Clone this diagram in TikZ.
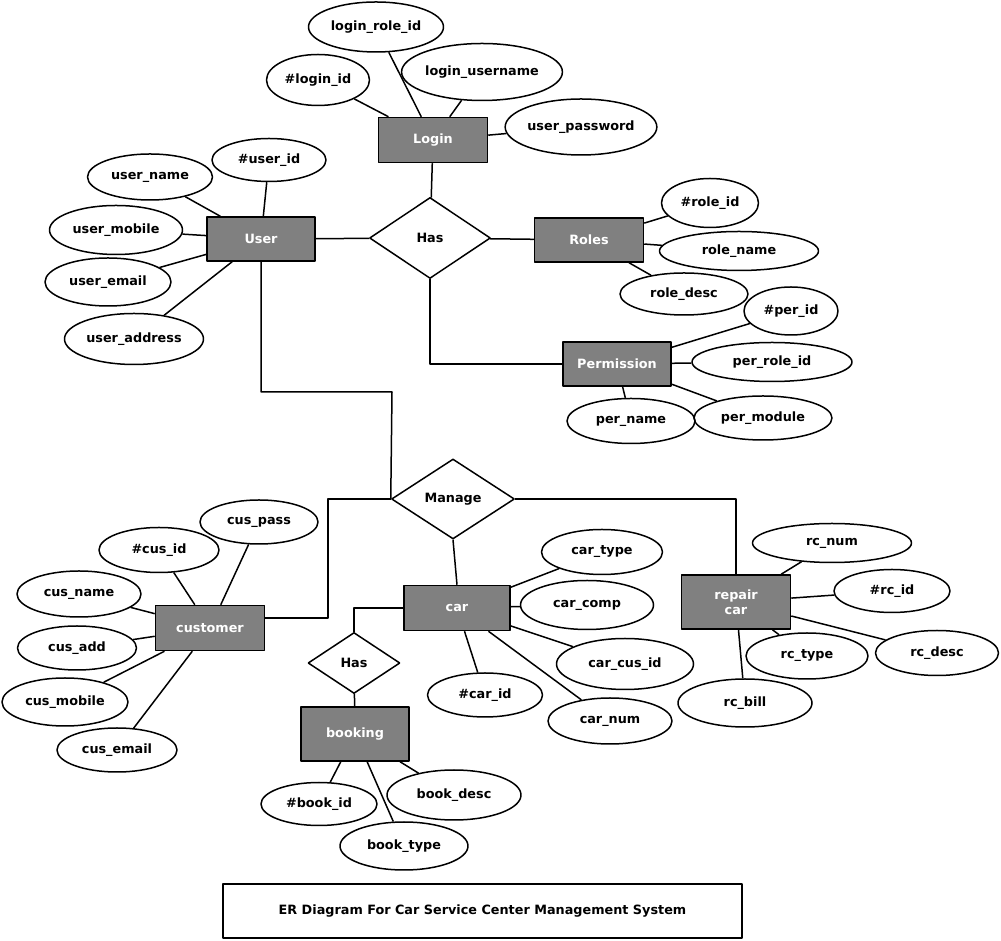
\documentclass[tikz,border=0pt]{standalone}
\usepackage{fontspec}
\setmainfont{DejaVu Sans}
\usepackage{tikz}
\usetikzlibrary{shapes.geometric}
\definecolor{entgray}{RGB}{128,128,128}

\begin{document}
\begin{tikzpicture}[line join=bevel,line width=1.5bp,
  font=\fontsize{12.8bp}{15bp}\selectfont\bfseries,
  entity/.style={draw=black,fill=entgray,text=white,inner sep=0pt,align=center},
  relation/.style={diamond,draw=black,fill=white,inner sep=0pt},
  attrib/.style={ellipse,draw=black,inner sep=0pt},
]
\useasboundingbox (0bp,0bp) rectangle (1001bp,941bp);
%%
\node (node_login) at (433bp,801bp) [entity,minimum width=109bp,minimum height=45bp] {Login};
  \node (node_user) at (261bp,702bp) [entity,minimum width=108bp,minimum height=44bp] {User};
  \node (node_roles) at (589bp,701bp) [entity,minimum width=109bp,minimum height=44bp] {Roles};
  \node (node_permission) at (617bp,577bp) [entity,minimum width=108bp,minimum height=44bp] {Permission};
  \node (node_customer) at (210bp,313bp) [entity,minimum width=109bp,minimum height=45bp] {customer};
  \node (node_car) at (457bp,333bp) [entity,minimum width=106bp,minimum height=45bp] {car};
  \node (node_repair) at (736bp,339bp) [entity,minimum width=109bp,minimum height=54bp] {repair\\car};
  \node (node_booking) at (355bp,207bp) [entity,minimum width=108bp,minimum height=54bp] {booking};
%
  \node (node_has_a) at (430bp,703bp) [relation,minimum width=121bp,minimum height=81bp] {Has};
  \node (node_manage) at (453bp,442bp) [relation,minimum width=123bp,minimum height=80bp] {Manage};
  \node (node_has_b) at (354bp,278bp) [relation,minimum width=92bp,minimum height=61bp] {Has};
%
  \node (node_login_role_id) at (376bp,914bp) [attrib,minimum width=135bp,minimum height=50bp] {login\_role\_id};
  \node (node_login_id) at (318bp,861bp) [attrib,minimum width=103bp,minimum height=51bp] {\#login\_id};
  \node (node_login_username) at (482bp,869bp) [attrib,minimum width=154bp,minimum height=57bp] {login\_username};
  \node (node_user_password) at (581bp,814bp) [attrib,minimum width=150bp,minimum height=56bp] {user\_password};
  \node (node_user_id) at (269bp,781bp) [attrib,minimum width=114bp,minimum height=43bp] {\#user\_id};
  \node (node_user_name) at (150bp,764bp) [attrib,minimum width=125bp,minimum height=46bp] {user\_name};
  \node (node_user_mobile) at (116bp,711bp) [attrib,minimum width=133bp,minimum height=49bp] {user\_mobile};
  \node (node_user_email) at (108bp,659bp) [attrib,minimum width=126bp,minimum height=48bp] {user\_email};
  \node (node_user_address) at (134bp,602bp) [attrib,minimum width=139bp,minimum height=51bp] {user\_address};
  \node (node_role_id) at (710bp,738bp) [attrib,minimum width=97bp,minimum height=49bp] {\#role\_id};
  \node (node_role_name) at (739bp,690bp) [attrib,minimum width=159bp,minimum height=39bp] {role\_name};
  \node (node_role_desc) at (684bp,647bp) [attrib,minimum width=128bp,minimum height=42bp] {role\_desc};
  \node (node_per_id) at (791bp,630bp) [attrib,minimum width=94bp,minimum height=48bp] {\#per\_id};
  \node (node_per_role_id) at (772bp,579bp) [attrib,minimum width=160bp,minimum height=39bp] {per\_role\_id};
  \node (node_per_name) at (631bp,520bp) [attrib,minimum width=128bp,minimum height=45bp] {per\_name};
  \node (node_per_module) at (763bp,523bp) [attrib,minimum width=138bp,minimum height=44bp] {per\_module};
  \node (node_cus_pass) at (259bp,419bp) [attrib,minimum width=118bp,minimum height=44bp] {cus\_pass};
  \node (node_cus_id) at (159bp,391bp) [attrib,minimum width=120bp,minimum height=45bp] {\#cus\_id};
  \node (node_cus_name) at (79bp,347bp) [attrib,minimum width=124bp,minimum height=46bp] {cus\_name};
  \node (node_cus_add) at (77bp,293bp) [attrib,minimum width=119bp,minimum height=44bp] {cus\_add};
  \node (node_cus_mobile) at (65bp,239bp) [attrib,minimum width=126bp,minimum height=48bp] {cus\_mobile};
  \node (node_cus_email) at (117bp,191bp) [attrib,minimum width=120bp,minimum height=44bp] {cus\_email};
  \node (node_car_type) at (602bp,389bp) [attrib,minimum width=121bp,minimum height=45bp] {car\_type};
  \node (node_car_comp) at (587bp,336bp) [attrib,minimum width=133bp,minimum height=49bp] {car\_comp};
  \node (node_car_cus_id) at (625bp,277bp) [attrib,minimum width=137bp,minimum height=51bp] {car\_cus\_id};
  \node (node_car_id) at (485bp,246bp) [attrib,minimum width=115bp,minimum height=44bp] {\#car\_id};
  \node (node_car_num) at (610bp,220bp) [attrib,minimum width=124bp,minimum height=46bp] {car\_num};
  \node (node_rc_num) at (832bp,398bp) [attrib,minimum width=159bp,minimum height=39bp] {rc\_num};
  \node (node_rc_id) at (892bp,350bp) [attrib,minimum width=116bp,minimum height=43bp] {\#rc\_id};
  \node (node_rc_type) at (807bp,285bp) [attrib,minimum width=122bp,minimum height=46bp] {rc\_type};
  \node (node_rc_desc) at (937bp,288bp) [attrib,minimum width=123bp,minimum height=45bp] {rc\_desc};
  \node (node_rc_bill) at (745bp,238bp) [attrib,minimum width=134bp,minimum height=48bp] {rc\_bill};
  \node (node_book_id) at (319bp,137bp) [attrib,minimum width=116bp,minimum height=43bp] {\#book\_id};
  \node (node_book_desc) at (454bp,146bp) [attrib,minimum width=134bp,minimum height=50bp] {book\_desc};
  \node (node_book_type) at (404bp,95bp) [attrib,minimum width=128bp,minimum height=48bp] {book\_type};
%
  \node (node_title) at (482.5bp,30bp) [draw=black,minimum width=519bp,minimum height=54bp] {ER Diagram For Car Service Center Management System};
  \coordinate (bend_0) at (392bp,549bp);
  \coordinate (bend_1) at (328bp,323bp);
%
  \draw [black] (node_login) -- (node_has_a);
  \draw [black] (node_user) -- (node_has_a);
  \draw [black] (node_has_a) -- (node_roles);
  \draw [black] (node_has_a.south) |- (node_permission.west);
  \draw [black] (node_user.south) |- (bend_0) -- (node_manage.west);
  \draw [black] (node_manage.west) -| (bend_1) -- (node_customer.east |- bend_1);
  \draw [black] (node_manage.south) -- (node_car.north);
  \draw [black] (node_manage.east) -| (node_repair.north);
  \draw [black] (node_car.west) -| (node_has_b.north);
  \draw [black] (node_has_b) -- (node_booking);
%
  \foreach \a in {login_role_id,login_id,login_username,user_password}
    \draw [black] (node_login) -- (node_\a);
  \foreach \a in {user_id,user_name,user_mobile,user_email,user_address}
    \draw [black] (node_user) -- (node_\a);
  \foreach \a in {role_id,role_name,role_desc}
    \draw [black] (node_roles) -- (node_\a);
  \foreach \a in {per_id,per_role_id,per_name,per_module}
    \draw [black] (node_permission) -- (node_\a);
  \foreach \a in {cus_pass,cus_id,cus_name,cus_add,cus_mobile,cus_email}
    \draw [black] (node_customer) -- (node_\a);
  \foreach \a in {car_type,car_comp,car_cus_id,car_id,car_num}
    \draw [black] (node_car) -- (node_\a);
  \foreach \a in {rc_num,rc_id,rc_type,rc_desc,rc_bill}
    \draw [black] (node_repair) -- (node_\a);
  \foreach \a in {book_id,book_desc,book_type}
    \draw [black] (node_booking) -- (node_\a);
%
\end{tikzpicture}
\end{document}
